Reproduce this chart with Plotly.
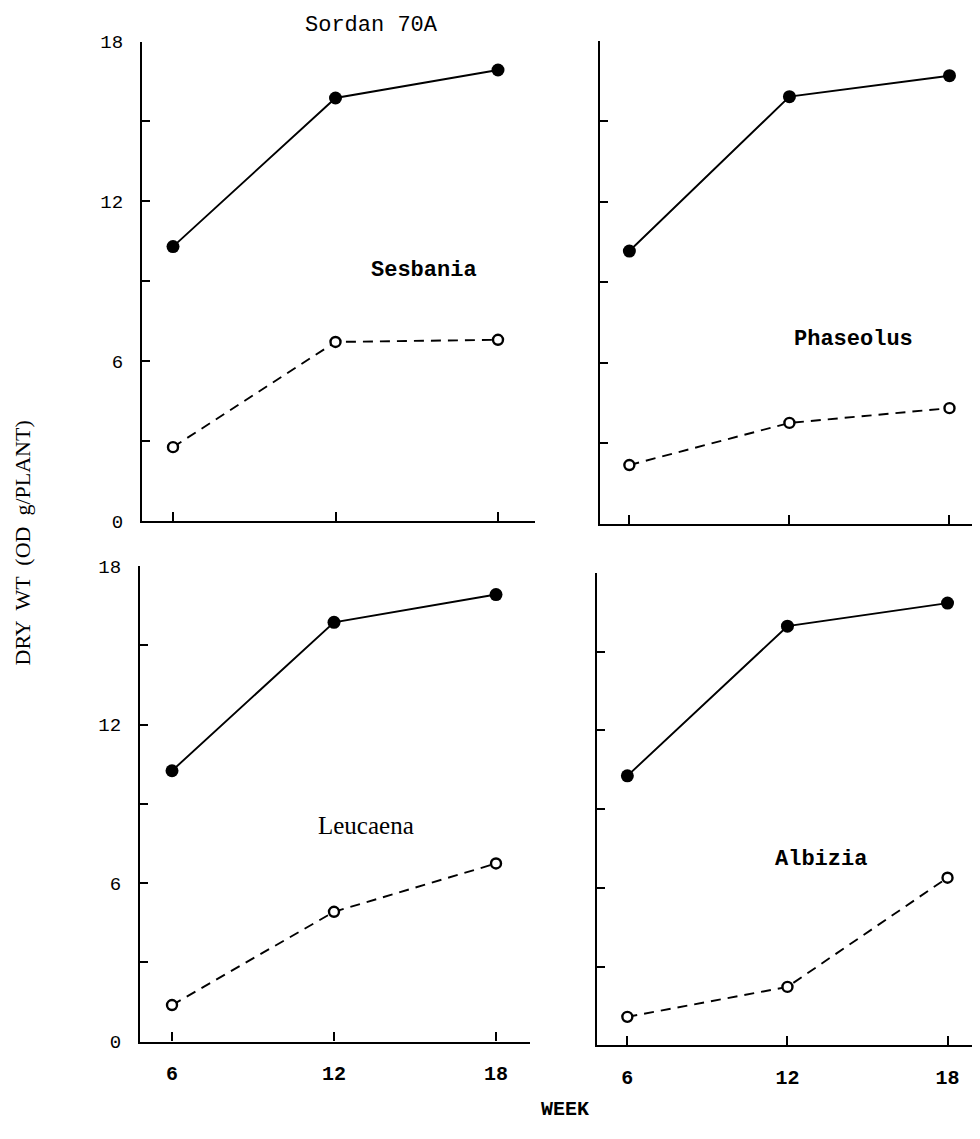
import plotly.graph_objects as go

weeks = [6, 12, 18]
panel_names = ["Sesbania", "Phaseolus", "Leucaena", "Albizia"]
sordan_sesbania = [10.3, 15.88, 16.93]
legume_sesbania = [2.77, 6.72, 6.80]
sordan_phaseolus = [10.16, 15.91, 16.69]
legume_phaseolus = [2.19, 3.76, 4.31]
sordan_leucaena = [10.25, 15.87, 16.92]
legume_leucaena = [1.38, 4.91, 6.74]
sordan_albizia = [10.27, 15.97, 16.85]
legume_albizia = [1.09, 2.23, 6.39]
y_tickvals = [0, 3, 6, 9, 12, 15, 18]
y_ticktext = ["0", "", "6", "", "12", "", "18"]
x_tickvals = [6, 12, 18]
x_ticktext = ["6", "12", "18"]

# page is 980x1139; the html body has an 8px margin, so the figure is 16px smaller
OFF = 8
W, H = 980 - 2 * OFF, 1139 - 2 * OFF

def fx(p):
    return (p - OFF) / W

def fy(p):
    return 1 - (p - OFF) / H

def px_x(a, b):
    return [fx(a), min(1.0, fx(b))]

def px_y(top, bottom):
    return [fy(bottom), fy(top)]

panels = [
    (px_x(142, 535), px_y(33, 522), [4.855, 19.366], sordan_sesbania, legume_sesbania, True, False),
    (px_x(600, 980), px_y(32, 525), [4.899, 18.844], sordan_phaseolus, legume_phaseolus, False, False),
    (px_x(140, 530), px_y(568, 1053), [4.815, 19.259], sordan_leucaena, legume_leucaena, True, True),
    (px_x(597, 980), px_y(575, 1057), [4.862, 18.917], sordan_albizia, legume_albizia, False, True),
]

fig = go.Figure()
layout = {}
mono = "Liberation Mono, Courier New, monospace"
serif = "Liberation Serif, Times New Roman, serif"

for i, (xd, yd, xr, solid, opn, ylab, xlab) in enumerate(panels):
    n = "" if i == 0 else str(i + 1)
    xa, ya = "x" + n, "y" + n
    fig.add_trace(go.Scatter(x=weeks, y=solid, xaxis=xa, yaxis=ya, mode="lines+markers",
                             line=dict(color="black", width=1.9),
                             marker=dict(symbol="circle", size=13, color="black"),
                             showlegend=False, cliponaxis=False))
    fig.add_trace(go.Scatter(x=weeks, y=opn, xaxis=xa, yaxis=ya, mode="lines+markers",
                             line=dict(color="black", width=1.9, dash="10px,7px"),
                             marker=dict(symbol="circle", size=10, color="white",
                                         line=dict(color="black", width=2.4)),
                             showlegend=False, cliponaxis=False))
    layout["xaxis" + n] = dict(domain=xd, range=xr, anchor=ya, showline=True, linecolor="black",
                               linewidth=2.2, ticks="inside", ticklen=9, tickwidth=1.8, tickcolor="black",
                               tickvals=x_tickvals, ticktext=x_ticktext, showticklabels=xlab,
                               showgrid=False, zeroline=False, fixedrange=True,
                               tickfont=dict(family=mono, size=20, color="black", weight="bold"),
                               ticklabelstandoff=12)
    layout["yaxis" + n] = dict(domain=yd, range=[0, 18], anchor=xa, showline=True, linecolor="black",
                               linewidth=2.2, ticks="inside", ticklen=8, tickwidth=1.8, tickcolor="black",
                               tickvals=y_tickvals, ticktext=y_ticktext, showticklabels=ylab,
                               showgrid=False, zeroline=False, fixedrange=True,
                               tickfont=dict(family=mono, size=19, color="black"),
                               ticklabelstandoff=13)

annotations = [
    dict(text="Sordan 70A", x=fx(371), y=fy(17), xref="paper", yref="paper",
         font=dict(family=mono, size=22)),
    dict(text="<b>Sesbania</b>", x=15.27, y=9.42, xref="x", yref="y", font=dict(family=mono, size=22)),
    dict(text="<b>Phaseolus</b>", x=14.40, y=6.86, xref="x2", yref="y2", font=dict(family=mono, size=22)),
    dict(text="Leucaena", x=13.19, y=8.17, xref="x3", yref="y3", font=dict(family=serif, size=25)),
    dict(text="<b>Albizia</b>", x=13.27, y=7.09, xref="x4", yref="y4", font=dict(family=mono, size=22)),
    dict(text="<b>WEEK</b>", x=fx(565), y=fy(1122), xref="paper", yref="paper",
         font=dict(family=mono, size=20)),
    dict(text="DRY  WT  (OD  g/PLANT)", x=fx(22), y=fy(545), xref="paper", yref="paper",
         textangle=-90, font=dict(family=serif, size=22)),
]
for a in annotations:
    a.setdefault("showarrow", False)
    a["xanchor"] = "center"
    a["yanchor"] = "middle"
    a["font"]["color"] = "black"

fig.update_layout(width=W, height=H, margin=dict(l=0, r=0, t=0, b=0),
                  paper_bgcolor="white", plot_bgcolor="white",
                  annotations=annotations, **layout)

fig.write_html("out.html")
